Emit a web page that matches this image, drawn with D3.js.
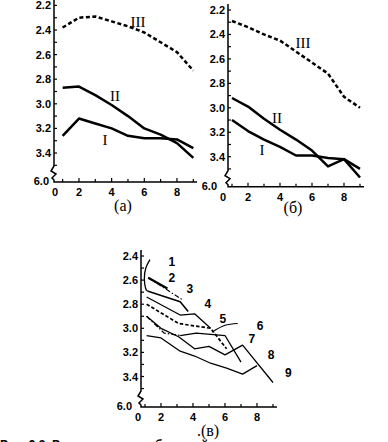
<!DOCTYPE html>
<html>
<head>
<meta charset="utf-8">
<script src="https://cdn.jsdelivr.net/npm/d3@7"></script>
<style>
body { margin: 0; background: #fff; }
</style>
</head>
<body>
<script>
// --- data ---
const days = [1, 2, 3, 4, 5, 6, 7, 8, 9]
const xTicks = [2, 4, 6, 8]
const yTicksTop = [2.2, 2.4, 2.6, 2.8, 3.0, 3.2, 3.4]
const yTicksLow = [2.4, 2.6, 2.8, 3.0, 3.2, 3.4]
const breakLabel = '6.0'

// panel (а)
const aI = [3.26, 3.12, 3.16, 3.20, 3.26, 3.28, 3.28, 3.29, 3.36]
const aII = [2.87, 2.86, 2.93, 3.01, 3.10, 3.20, 3.25, 3.32, 3.44]
const aIII = [2.38, 2.30, 2.29, 2.33, 2.37, 2.42, 2.50, 2.58, 2.73]
// panel (б)
const bI = [3.10, 3.19, 3.26, 3.32, 3.39, 3.39, 3.41, 3.42, 3.50]
const bII = [2.92, 2.99, 3.09, 3.18, 3.26, 3.35, 3.48, 3.42, 3.57]
const bIII = [2.29, 2.34, 2.40, 2.45, 2.54, 2.63, 2.72, 2.91, 3.00]
// panel (в): [x, y] pairs
const v1 = [[1.31, 2.43], [1.05, 2.50], [0.96, 2.59], [1.04, 2.67], [1.15, 2.69]]
const v2 = [[1.2, 2.58], [2.4, 2.67]]
const v3 = [[1.2, 2.58], [3.3, 2.76]]
const v4 = [[1.15, 2.69], [3.2, 2.78], [3.7, 2.86]]
const v5 = [[1.1, 2.74], [3.2, 2.89], [4.1, 2.88], [5.1, 3.00]]
const v6 = [[1.1, 2.80], [3.1, 2.96], [5.1, 3.00], [6.1, 3.17]]
const v6arc = [[5.2, 3.03], [6.0, 2.975], [6.8, 2.96]]
const v7a = [[1.1, 2.90], [2.2, 3.04], [3.2, 3.06]]
const v7b = [[3.2, 3.06], [4.2, 3.04], [5.1, 3.05], [6.0, 3.06], [7.0, 3.28]]
const v8 = [[1.1, 3.06], [2.0, 3.08], [3.2, 3.19], [4.1, 3.23], [5.1, 3.29], [6.1, 3.33], [7.1, 3.38], [8.0, 3.31]]
const v9 = [[1.1, 2.90], [2.0, 3.00], [3.1, 3.07], [4.1, 3.17], [5.0, 3.15], [6.0, 3.22], [7.1, 3.14], [9.0, 3.45]]
const vNames = ['1', '2', '3', '4', '5', '6', '7', '8', '9']
const vNamePos = [[2.67, 2.447], [2.67, 2.58], [3.81, 2.67], [4.92, 2.80], [5.86, 2.925], [8.19, 2.98], [7.67, 3.09], [8.88, 3.22], [9.96, 3.37]]

const WIDTH = 388
const HEIGHT = 442
const svg = d3.select('body').append('svg').attr('width', WIDTH).attr('height', HEIGHT)

const tickFont = '"Liberation Sans Narrow", "Liberation Sans", Arial, sans-serif'
const serif = '"Liberation Serif", "DejaVu Serif", serif'

function panel(o) {
    const g = svg.append('g')
    const x = d3.scaleLinear().domain([0, 9]).range(o.xr)
    const y = d3.scaleLinear().domain(o.yd).range(o.yr)
    const ax = o.ax, b = o.bottom

    // y axis with break
    const axisPath = d3.path()
    axisPath.moveTo(ax, o.top)
    axisPath.lineTo(ax, b - 16)
    axisPath.lineTo(ax - 3, b - 11)
    axisPath.lineTo(ax + 2, b - 8)
    axisPath.lineTo(ax - 2, b - 4)
    axisPath.lineTo(ax, b - 2)
    axisPath.lineTo(ax, b)
    axisPath.lineTo(o.xEnd, b)
    g.append('path').attr('d', axisPath.toString())
        .attr('fill', 'none').attr('stroke', '#000').attr('stroke-width', 1.5)

    // y ticks every 0.1
    const minor = d3.range(Math.round(o.yd[0] * 10), 36).map(d => d / 10)
    g.selectAll('.yt').data(minor).enter().append('line')
        .attr('x1', ax).attr('x2', ax + 3)
        .attr('y1', d => y(d)).attr('y2', d => y(d))
        .attr('stroke', '#000').attr('stroke-width', 1.2)
    g.selectAll('.yl').data(o.yTicks).enter().append('text')
        .attr('x', ax - 3).attr('y', d => y(d))
        .attr('text-anchor', 'end').attr('dominant-baseline', 'central')
        .attr('font-family', tickFont).attr('font-weight', 'bold').attr('font-size', 11)
        .text(d => d.toFixed(1))
    g.append('text')
        .attr('x', o.zeroX - 2).attr('y', b - 1)
        .attr('text-anchor', 'end').attr('dominant-baseline', 'central')
        .attr('font-family', tickFont).attr('font-weight', 'bold').attr('font-size', 11)
        .text(breakLabel)

    // x ticks
    g.selectAll('.xt').data(days).enter().append('line')
        .attr('x1', d => x(d)).attr('x2', d => x(d))
        .attr('y1', b).attr('y2', d => d % 2 ? b - 3 : b - 4)
        .attr('stroke', '#000').attr('stroke-width', 1.2)
    g.selectAll('.xl').data(xTicks).enter().append('text')
        .attr('x', d => x(d)).attr('y', b + 10)
        .attr('text-anchor', 'middle').attr('dominant-baseline', 'central')
        .attr('font-family', tickFont).attr('font-weight', 'bold').attr('font-size', 11)
        .text(d => d)
    g.append('text')
        .attr('x', o.zeroX + 1).attr('y', b + 10)
        .attr('text-anchor', 'start').attr('dominant-baseline', 'central')
        .attr('font-family', tickFont).attr('font-weight', 'bold').attr('font-size', 11)
        .text('0')

    // caption
    g.append('text')
        .attr('x', o.cap[0]).attr('y', o.cap[1])
        .attr('text-anchor', 'middle')
        .attr('font-family', serif).attr('font-size', 16)
        .text(o.caption)

    return { g, x, y }
}

// --- panel (а) ---
const pa = panel({ xr: [46.3, 193.3], yd: [2.2, 3.4], yr: [5.4, 153], ax: 54, top: 0, bottom: 182,
    xEnd: 197, zeroX: 51, yTicks: yTicksTop, caption: '(а)', cap: [123, 211] })
// --- panel (б) ---
const pb = panel({ xr: [216, 360], yd: [2.2, 3.4], yr: [10, 156.7], ax: 228, top: 4, bottom: 186.7,
    xEnd: 364, zeroX: 219, yTicks: yTicksTop, caption: '(б)', cap: [293, 213] })
// --- panel (в) ---
const pv = panel({ xr: [129, 273], yd: [2.4, 3.4], yr: [256, 376.5], ax: 141, top: 250, bottom: 407,
    xEnd: 277, zeroX: 134, yTicks: yTicksLow, caption: '.(в)', cap: [208, 436] })

function series(p, vals, width, dash) {
    const line = d3.line().x((d, i) => p.x(days[i])).y(d => p.y(d))
    p.g.append('path').datum(vals).attr('d', line)
        .attr('fill', 'none').attr('stroke', '#000').attr('stroke-width', width)
        .attr('stroke-linejoin', 'round')
        .attr('stroke-dasharray', dash || null)
}
function roman(p, txt, px, py) {
    p.g.append('text').attr('x', p.x(px)).attr('y', p.y(py))
        .attr('text-anchor', 'middle').attr('dominant-baseline', 'central')
        .attr('font-family', serif).attr('font-size', 15).text(txt)
}

series(pa, aI, 2.5)
series(pa, aII, 2.5)
series(pa, aIII, 2.5, '4,2.5')
roman(pa, 'III', 5.62, 2.335)
roman(pa, 'II', 4.21, 2.937)
roman(pa, 'I', 3.6, 3.294)

series(pb, bI, 2.5)
series(pb, bII, 2.5)
series(pb, bIII, 2.5, '4,2.5')
roman(pb, 'III', 5.44, 2.47)
roman(pb, 'II', 3.81, 3.083)
roman(pb, 'I', 2.875, 3.345)

function curve(p, pts, width, dash, smooth) {
    const line = d3.line().x(d => p.x(d[0])).y(d => p.y(d[1]))
    if (smooth) line.curve(d3.curveNatural)
    p.g.append('path').datum(pts).attr('d', line)
        .attr('fill', 'none').attr('stroke', '#000').attr('stroke-width', width)
        .attr('stroke-linejoin', 'round')
        .attr('stroke-dasharray', dash || null)
}

curve(pv, v1, 1.3, null, true)
curve(pv, v2, 2.2)
curve(pv, v3, 1.1, '5,2,1.5,2')
curve(pv, v4, 1.6)
curve(pv, v5, 1.3)
curve(pv, v6, 1.7, '3.5,2')
curve(pv, v6arc, 1.1, null, true)
curve(pv, v7a, 1.3, '5,2,1.5,2')
curve(pv, v7b, 1.3)
curve(pv, v8, 1.3)
curve(pv, v9, 1.3)

pv.g.selectAll('.vn').data(vNames).enter().append('text')
    .attr('x', (d, i) => pv.x(vNamePos[i][0]))
    .attr('y', (d, i) => pv.y(vNamePos[i][1]))
    .attr('text-anchor', 'middle').attr('dominant-baseline', 'central')
    .attr('font-family', tickFont).attr('font-weight', 'bold').attr('font-size', 12)
    .text(d => d)

// figure caption, cut by the bottom edge as in the scan
svg.append('text').attr('x', 0).attr('y', 449)
    .attr('font-family', '"Liberation Sans", Arial, sans-serif').attr('font-weight', 'bold').attr('font-size', 12)
    .text('Рис. 9.3. Распределение объемной массы почвы')
</script>
</body>
</html>
